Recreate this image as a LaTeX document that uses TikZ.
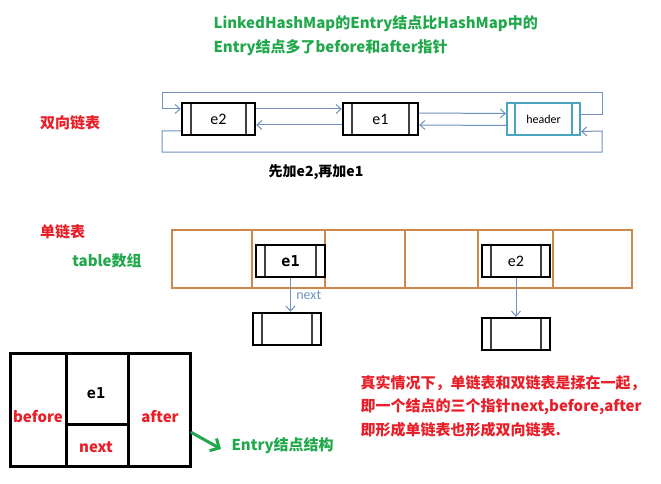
\documentclass[tikz,border=0pt]{standalone}
\usepackage{fontspec}
\setmainfont{Noto Sans CJK SC}
\newfontfamily\calfont{Carlito}
\newfontfamily\codefont{DejaVu Sans Mono}
\usetikzlibrary{arrows.meta,calc,positioning}

\definecolor{notegreen}{RGB}{34,168,76}
\definecolor{notered}{RGB}{232,30,40}
\definecolor{linkblue}{RGB}{112,146,190}
\definecolor{headerteal}{RGB}{75,165,190}
\definecolor{arrayorange}{RGB}{205,135,75}

\tikzset{
	entrybox/.style={draw, line width=2.4pt, minimum width=#1, minimum height=32pt, inner sep=0pt,
		font=\calfont\fontsize{16}{16}\selectfont,
		path picture={
			\draw[line width=1.6pt, black!75] ([xshift=9pt]path picture bounding box.north west) -- ([xshift=9pt]path picture bounding box.south west);
			\draw[line width=1.6pt, black!75] ([xshift=-9pt]path picture bounding box.north east) -- ([xshift=-9pt]path picture bounding box.south east);
		}},
	entrybox/.default=73pt,
	headerbox/.style={entrybox, draw=headerteal, line width=2pt, font=\calfont\fontsize{12}{12}\selectfont,
		path picture={
			\draw[line width=1.6pt, headerteal] ([xshift=8pt]path picture bounding box.north west) -- ([xshift=8pt]path picture bounding box.south west);
			\draw[line width=1.6pt, headerteal] ([xshift=-8pt]path picture bounding box.north east) -- ([xshift=-8pt]path picture bounding box.south east);
		}},
	link/.style={draw=linkblue, line width=1pt, -{Straight Barb[length=5pt,width=9pt]}},
	greennote/.style={text=notegreen, font=\bfseries\fontsize{15}{15}\selectfont},
	rednote/.style={text=notered, font=\bfseries\fontsize{15}{15}\selectfont},
	arraycell/.style={draw=arrayorange, line width=1.5pt}
}

\begin{document}
\begin{tikzpicture}[x=1pt,y=-1pt]
	\useasboundingbox[fill=white] (0,0) rectangle (661,484);

	%title
	\node[greennote, anchor=west] (title1) at (210,24) {LinkedHashMap的Entry结点比HashMap中的};
	\node[greennote, anchor=west] (title2) at (210,48) {Entry结点多了before和after指针};

	%double linked list
	\node[rednote] (dlabel) at (70,123) {双向链表};
	\node[entrybox] (de2) at (218.5,119) {e2};
	\node[entrybox=75pt] (de1) at (380.5,119) {e1};
	\node[headerbox] (header) at (543.5,119.5) {header};

	\coordinate (railNE) at (602,93);
	\coordinate (railW) at (162,109);
	\coordinate (railSW) at (162,152);
	\coordinate (railE) at (602,131);

	\draw[link] ([yshift=10pt]de2.east) -- ([yshift=10pt]de1.west);
	\draw[link] ([yshift=-6pt]de1.west) -- ([yshift=-6pt]de2.east);
	\draw[link] ([yshift=6pt]de1.east) -- ([yshift=6pt]header.west);
	\draw[link] ([yshift=-6pt]header.west) -- ([yshift=-6pt]de1.east);
	\draw[link] ([yshift=5pt]header.east) -| (railNE) -| (railW) -- ([yshift=10pt]de2.west);
	\draw[link] ([yshift=-12pt]de2.west) -| (railSW) -| (railE) -- ([yshift=-12pt]header.east);

	\node[font=\bfseries\fontsize{14}{14}\selectfont] (order) at (316,172) {先加e2,再加e1};

	%single linked list
	\node[rednote] (slabel) at (62.5,232) {单链表};
	\node[greennote] (tlabel) at (107,261) {table数组};

	\foreach \xLeft/\xRight in {172/252, 252/325, 325/405, 405/478, 478/553, 553/632}{
		\draw[arraycell] (\xLeft,230) rectangle (\xRight,288);
	}

	\node[entrybox=69pt, font=\codefont\bfseries\fontsize{15}{15}\selectfont] (te1) at (290.5,261) {e1};
	\node[entrybox=68pt] (te2) at (516,261) {e2};
	\node[entrybox=68pt] (nx1) at (287,329) {};
	\node[entrybox=68pt] (nx2) at (516,334) {};

	\draw[link] (te1.south) -- (te1.south |- nx1.north) node[midway, right, xshift=2pt, text=linkblue, font=\calfont\fontsize{14}{14}\selectfont] {next};
	\draw[link] (te2.south) -- (nx2.north);

	%entry structure
	\node[draw, line width=3pt, minimum width=180pt, minimum height=113pt] (entry) at (100,409.5) {};
	\draw[line width=3pt] (66,353) -- (66,466);
	\draw[line width=3pt] (128,353) -- (128,466);
	\draw[line width=3pt] (66,424) -- (130,424);
	\node[font=\codefont\bfseries\fontsize{15}{15}\selectfont] (fe1) at (96,393) {e1};
	\node[rednote] (fbefore) at (38,417) {before};
	\node[rednote] (fafter) at (160,417) {after};
	\node[rednote] (fnext) at (96,447) {next};

	\node[greennote, anchor=west] (elabel) at (228,446) {Entry结点结构};
	\draw[draw=notegreen, line width=3pt, line cap=round, -{Straight Barb[length=7pt,width=14pt]}] ([yshift=-23pt]entry.east) -- ([xshift=-7pt,yshift=-3pt]elabel.west);

	%note
	\node[rednote, anchor=west] (note1) at (357,383) {真实情况下，单链表和双链表是揉在一起，};
	\node[rednote, anchor=west] (note2) at (357,407) {即一个结点的三个指针next,before,after};
	\node[rednote, anchor=west] (note3) at (357,430) {即形成单链表也形成双向链表.};
\end{tikzpicture}
\end{document}
